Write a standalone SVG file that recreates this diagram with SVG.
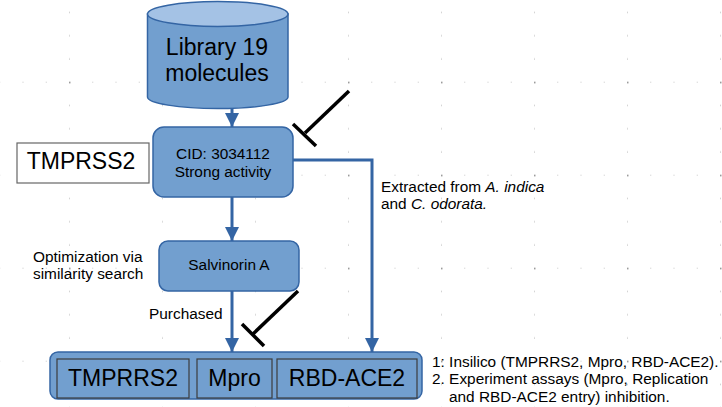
<svg xmlns="http://www.w3.org/2000/svg" width="722" height="407" viewBox="0 0 722 407">
<style>
.box{fill:#729fcf;stroke:#3465a4;stroke-width:1.5}
.inner{fill:#729fcf;stroke:#3c3c3c;stroke-width:1.2}
.conn{fill:none;stroke:#3465a4;stroke-width:3}
.inh{fill:none;stroke:#000;stroke-width:3.5}
text{font-family:"Liberation Sans",Arial,sans-serif;fill:#000}
.big{font-size:23px}
.sm{font-size:15.4px}
.mid{text-anchor:middle}
</style>
<defs>
<pattern id="grid" patternUnits="userSpaceOnUse" x="69" y="81.7" width="93" height="93">
<rect x="0" y="0" width="1.5" height="1.5" fill="#8a8a8a"/>
<rect x="0" y="23.25" width="1" height="1" fill="#b8b8b8"/>
<rect x="0" y="46.5" width="1" height="1" fill="#b8b8b8"/>
<rect x="0" y="69.75" width="1" height="1" fill="#b8b8b8"/>
<rect x="23.25" y="0" width="1" height="1" fill="#c8c8c8"/>
<rect x="46.5" y="0" width="1" height="1" fill="#c8c8c8"/>
<rect x="69.75" y="0" width="1" height="1" fill="#c8c8c8"/>
</pattern>
<marker id="arr" markerUnits="userSpaceOnUse" markerWidth="14" markerHeight="14" viewBox="0 0 14 14" refX="14" refY="7" orient="auto">
<path d="M0,0 L14,7 L0,14 z" fill="#3465a4"/>
</marker>
</defs>
<rect width="722" height="407" fill="#fff"/>
<rect width="722" height="407" fill="url(#grid)"/>

<g id="connectors">
<line class="conn" x1="232" y1="108" x2="232" y2="127" marker-end="url(#arr)"/>
<line class="conn" x1="232" y1="197" x2="232" y2="241" marker-end="url(#arr)"/>
<line class="conn" x1="232" y1="291" x2="232" y2="352" marker-end="url(#arr)"/>
<polyline class="conn" points="293,160 372,160 372,352" marker-end="url(#arr)"/>
<g id="inhibit1"><line class="inh" x1="349" y1="91" x2="305" y2="133"/><line class="inh" x1="293" y1="124" x2="316" y2="146"/></g>
<g id="inhibit2"><line class="inh" x1="298" y1="291" x2="253" y2="334"/><line class="inh" x1="242" y1="324" x2="264" y2="346"/></g>
</g>

<g id="library">
<path d="M147.5,14 L147.5,97 A70.25,11.5 0 0 0 288,97 L288,14 Z" fill="#729fcf" stroke="#3465a4" stroke-width="1.5"/>
<ellipse cx="217.75" cy="14" rx="70.25" ry="12.5" fill="#a4c2e5" stroke="#3465a4" stroke-width="1.5"/>
<text class="big mid" x="217" y="55">Library 19</text>
<text class="big mid" x="217" y="81">molecules</text>
</g>

<g id="tmprss2">
<rect x="17" y="143" width="132" height="40" fill="#fff" stroke="#666" stroke-width="1.2"/>
<text class="big mid" x="81" y="169">TMPRSS2</text>
</g>

<g id="cid">
<rect class="box" x="153" y="127" width="140" height="70" rx="11"/>
<text class="sm mid" x="223" y="159">CID: 3034112</text>
<text class="sm mid" x="223" y="177">Strong activity</text>
</g>

<g id="extracted">
<text class="sm" x="381" y="192">Extracted from <tspan font-style="italic">A. indica</tspan></text>
<text class="sm" x="381" y="209">and <tspan font-style="italic">C. odorata.</tspan></text>
</g>

<g id="salvinorin">
<rect class="box" x="159" y="241" width="140" height="50" rx="9"/>
<text class="sm mid" x="229" y="270">Salvinorin A</text>
</g>

<g id="optimization">
<text class="sm" x="33" y="262">Optimization via</text>
<text class="sm" x="33" y="279">similarity search</text>
</g>

<g id="purchased">
<text class="sm" x="149" y="319">Purchased</text>
</g>

<g id="targets">
<rect class="box" x="50" y="352" width="372" height="47" rx="8"/>
<g id="t-tmprrs2"><rect class="inner" x="57" y="359" width="132" height="39"/><text class="big mid" x="123" y="386">TMPRRS2</text></g>
<g id="t-mpro"><rect class="inner" x="197" y="359" width="75" height="39"/><text class="big mid" x="234.5" y="386">Mpro</text></g>
<g id="t-rbd"><rect class="inner" x="277" y="359" width="140" height="39"/><text class="big mid" x="347" y="386">RBD-ACE2</text></g>
</g>

<g id="notes">
<text class="sm" x="432" y="367">1: Insilico (TMPRRS2, Mpro, RBD-ACE2).</text>
<text class="sm" x="432" y="384">2. Experiment assays (Mpro, Replication</text>
<text class="sm" x="449" y="401.5">and RBD-ACE2 entry) inhibition.</text>
</g>
</svg>
